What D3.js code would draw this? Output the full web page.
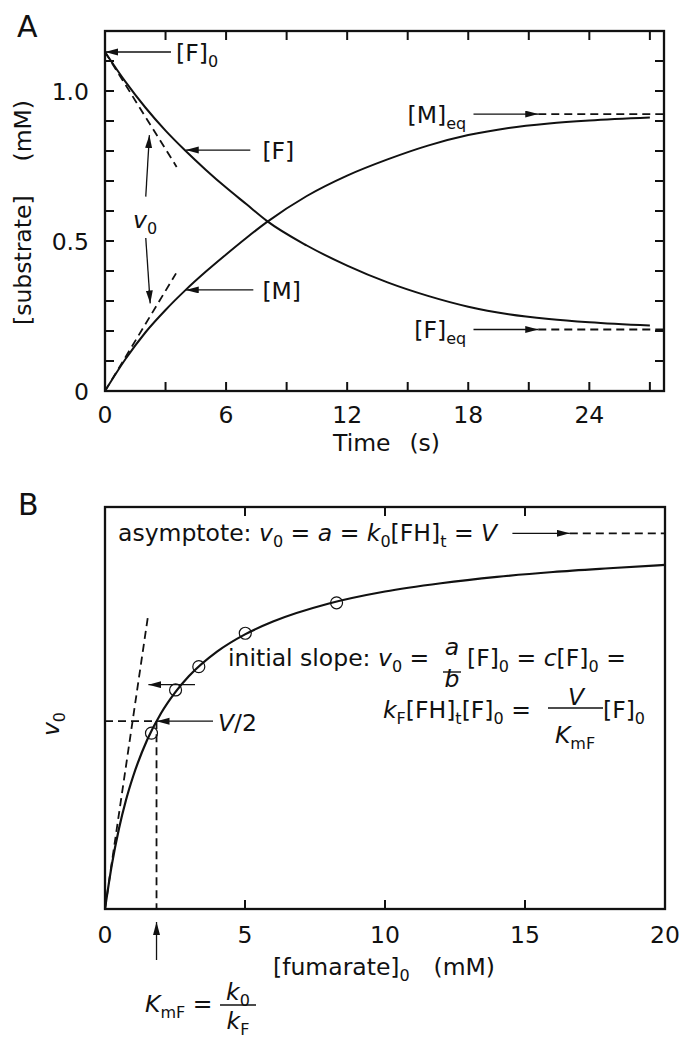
<!DOCTYPE html>
<html>
<head>
<meta charset="utf-8">
<script src="https://cdn.jsdelivr.net/npm/d3@7"></script>
<style>
  body { margin: 0; background: #fff; }
  text { font-family: "DejaVu Sans", sans-serif; fill: #111; }
</style>
</head>
<body>
<svg id="chart" width="681" height="1039"></svg>
<script>
// ---------------------------------------------
// data

// panel A: time course (s) and the two substrate curves (mM)
const timeA = [0, 1, 2, 3, 4, 5, 6, 7, 8, 10, 12, 14, 16, 18, 20, 22, 24, 27];
const fumarateA = [1.13, 1.032, 0.945, 0.868, 0.80, 0.737, 0.678, 0.623, 0.568, 0.485, 0.418, 0.362, 0.317, 0.281, 0.256, 0.24, 0.229, 0.218];
const malateA = [0, 0.105, 0.195, 0.27, 0.337, 0.398, 0.455, 0.51, 0.562, 0.65, 0.718, 0.772, 0.818, 0.853, 0.877, 0.892, 0.902, 0.912];
const xTicksA = [0, 6, 12, 18, 24];
const yTicksA = [0, 0.5, 1.0];
const F0 = 1.13, Feq = 0.205, Meq = 0.923;
// tangent end points (initial rates)
const tangentF = [[0, 1.13], [3.55, 0.747]];
const tangentM = [[0, 0], [3.52, 0.392]];

// panel B: [fumarate]0 (mM) against v0 (V = 1)
const concB = [0, 0.25, 0.5, 0.75, 1, 1.5, 2, 2.5, 3, 4, 5, 6, 8, 10, 12, 14, 16, 18, 20];
const rateB = [0, 0.12, 0.214, 0.29, 0.352, 0.449, 0.521, 0.576, 0.62, 0.685, 0.731, 0.765, 0.813, 0.845, 0.867, 0.884, 0.897, 0.907, 0.916];
const pointConc = [1.66, 2.52, 3.35, 5.01, 8.27];
const pointRate = [0.468, 0.583, 0.645, 0.734, 0.815];
const xTicksB = [0, 5, 10, 15, 20];
const Vmax = 1, KmF = 1.84;
const slopeLine = [[0, 0], [1.55, 0.787]];

// ---------------------------------------------
// setup

const svg = d3.select("#chart");
const FS = 23.5;      // main font size
const SUB = 16;       // subscript size

// arrow head marker
svg.append("defs").append("marker")
    .attr("id", "head")
    .attr("markerUnits", "userSpaceOnUse")
    .attr("markerWidth", 14).attr("markerHeight", 8)
    .attr("refX", 13).attr("refY", 3.5)
    .attr("orient", "auto")
    .append("path")
    .attr("d", "M0,0 L13,3.5 L0,7 Z")
    .attr("fill", "#111");

// writes a text with sub-scripts; "_" = subscript, "*" = italic
function rich(g, x, y, parts, anchor) {
    const t = g.append("text")
        .attr("x", x).attr("y", y)
        .attr("font-size", FS)
        .attr("text-anchor", anchor || "start");
    let shift = 0;
    parts.forEach(p => {
        let italic = false, sub = false;
        while (p[0] === "*" || p[0] === "_") {
            if (p[0] === "*") italic = true; else sub = true;
            p = p.slice(1);
        }
        const span = t.append("tspan").text(p).style("white-space", "pre");
        const want = sub ? 6 : 0;
        if (want !== shift) span.attr("dy", want - shift);
        shift = want;
        if (sub) span.attr("font-size", SUB);
        if (italic) span.attr("font-style", "italic");
    });
    return t;
}

function arrow(g, x1, y1, x2, y2) {
    g.append("line")
        .attr("x1", x1).attr("y1", y1).attr("x2", x2).attr("y2", y2)
        .attr("stroke", "#111").attr("stroke-width", 1.3)
        .attr("marker-end", "url(#head)");
}

function dashed(g, pts, x, y) {
    g.append("path")
        .attr("d", d3.line().x(d => x(d[0])).y(d => y(d[1]))(pts))
        .attr("fill", "none").attr("stroke", "#111")
        .attr("stroke-width", 1.8).attr("stroke-dasharray", "8,5");
}

// frame with inward ticks on the sides asked for
function frame(g, x, y, xt, yt) {
    const [x0, x1] = x.range(), [y0, y1] = y.range();
    const L = 9;
    xt.forEach(v => {
        g.append("line").attr("x1", x(v)).attr("x2", x(v)).attr("y1", y0).attr("y2", y0 - L);
        g.append("line").attr("x1", x(v)).attr("x2", x(v)).attr("y1", y1).attr("y2", y1 + L);
    });
    yt.forEach(v => {
        g.append("line").attr("y1", y(v)).attr("y2", y(v)).attr("x1", x0).attr("x2", x0 + L);
        g.append("line").attr("y1", y(v)).attr("y2", y(v)).attr("x1", x1).attr("x2", x1 - L);
    });
    g.selectAll("line").attr("stroke", "#111").attr("stroke-width", 2);
    g.append("rect")
        .attr("x", x0).attr("y", y1)
        .attr("width", x1 - x0).attr("height", y0 - y1)
        .attr("fill", "none").attr("stroke", "#111").attr("stroke-width", 2.3);
}

// ---------------------------------------------
// panel A

const xA = d3.scaleLinear().domain([0, 27.7]).range([105, 664]);
const yA = d3.scaleLinear().domain([0, 1.2]).range([391, 31]);
const gA = svg.append("g");

frame(gA.append("g"), xA, yA, d3.range(3, 28, 3), d3.range(1, 12).map(i => i / 10));

gA.selectAll(".xl").data(xTicksA).join("text")
    .attr("x", d => xA(d)).attr("y", 423)
    .attr("text-anchor", "middle").attr("font-size", FS)
    .text(d => d);
gA.selectAll(".yl").data(yTicksA).join("text")
    .attr("x", 89).attr("y", d => yA(d) + 8.5)
    .attr("text-anchor", "end").attr("font-size", FS)
    .text(d => d === 0 ? "0" : d.toFixed(1));

gA.append("text").attr("x", 333).attr("y", 451).attr("font-size", FS).text("Time");
gA.append("text").attr("x", 440).attr("y", 451).attr("font-size", FS).attr("text-anchor", "end").text("(s)");

gA.append("text").attr("transform", "translate(31,325) rotate(-90)").attr("font-size", FS).text("[substrate]");
gA.append("text").attr("transform", "translate(31,100) rotate(-90)").attr("font-size", FS).attr("text-anchor", "end").text("(mM)");

gA.append("text").attr("x", 17).attr("y", 37).attr("font-size", 30).text("A");

// curves
const lineA = d3.line().curve(d3.curveMonotoneX).x((d, i) => xA(timeA[i])).y(d => yA(d));
[fumarateA, malateA].forEach(s => {
    gA.append("path").attr("d", lineA(s))
        .attr("fill", "none").attr("stroke", "#111").attr("stroke-width", 2);
});

// tangents and equilibrium lines
dashed(gA, tangentF, xA, yA);
dashed(gA, tangentM, xA, yA);
dashed(gA, [[21.47, Meq], [27.7, Meq]], xA, yA);
dashed(gA, [[21.47, Feq], [27.7, Feq]], xA, yA);

// annotations
arrow(gA, xA(3.27), yA(F0), xA(0), yA(F0));
rich(gA, xA(3.52), yA(F0) + 9, ["[F]", "_0"]);
arrow(gA, xA(7.2), yA(0.803), xA(4.0), yA(0.803));
rich(gA, xA(7.8), yA(0.803) + 9, ["[F]"]);
arrow(gA, xA(7.35), yA(0.337), xA(4.0), yA(0.337));
rich(gA, xA(7.8), yA(0.337) + 9, ["[M]"]);
arrow(gA, xA(18.26), yA(Meq), xA(21.47), yA(Meq));
rich(gA, xA(17.9), yA(Meq) + 8.5, ["[M]", "_eq"], "end");
arrow(gA, xA(18.26), yA(Feq), xA(21.47), yA(Feq));
rich(gA, xA(17.9), yA(Feq) + 8.5, ["[F]", "_eq"], "end");
rich(gA, 133, 228, ["*v", "_0"]);
arrow(gA, xA(2.02), yA(0.648), xA(2.2), yA(0.853));
arrow(gA, xA(2.02), yA(0.51), xA(2.24), yA(0.292));

// ---------------------------------------------
// panel B

const xB = d3.scaleLinear().domain([0, 20]).range([105, 665]);
const yB = d3.scaleLinear().domain([0, 1.07]).range([909, 507]);
const gB = svg.append("g");

frame(gB.append("g"), xB, yB, [5, 10, 15], []);

gB.selectAll(".xl").data(xTicksB).join("text")
    .attr("x", d => xB(d)).attr("y", 943)
    .attr("text-anchor", "middle").attr("font-size", FS)
    .text(d => d);
rich(gB, 273, 975, ["[fumarate]", "_0"]);
gB.append("text").attr("x", 495).attr("y", 975).attr("font-size", FS).attr("text-anchor", "end").text("(mM)");
rich(gB, 0, 0, ["*v", "_0"], "middle").attr("transform", "translate(59,724) rotate(-90)").attr("x", null).attr("y", null);
gB.append("text").attr("x", 18).attr("y", 515).attr("font-size", 30).text("B");

// fitted curve and measured points
const lineB = d3.line().curve(d3.curveMonotoneX).x((d, i) => xB(concB[i])).y(d => yB(d));
gB.append("path").attr("d", lineB(rateB))
    .attr("fill", "none").attr("stroke", "#111").attr("stroke-width", 2.2);
gB.selectAll("circle").data(pointRate).join("circle")
    .attr("cx", (d, i) => xB(pointConc[i])).attr("cy", d => yB(d))
    .attr("r", 6).attr("fill", "none").attr("stroke", "#111").attr("stroke-width", 1.2);

// guide lines
dashed(gB, slopeLine, xB, yB);
dashed(gB, [[0, Vmax / 2], [KmF, Vmax / 2]], xB, yB);
dashed(gB, [[KmF, Vmax / 2], [KmF, 0]], xB, yB);
dashed(gB, [[16.6, Vmax], [20, Vmax]], xB, yB);

// asymptote label
rich(gB, 118, 541, ["asymptote: ", "*v", "_0", " = ", "*a", " = ", "*k", "_0", "[FH]", "_t", " = ", "*V"]);
arrow(gB, xB(14.55), yB(Vmax), xB(16.6), yB(Vmax));

// initial slope label
arrow(gB, 195, yB(0.597), xB(1.55), yB(0.597));
rich(gB, 228, 666, ["initial slope: ", "*v", "_0", " ="]);
rich(gB, 452, 655, ["*a"], "middle");
rich(gB, 452, 687, ["*b"], "middle");
gB.append("line").attr("x1", 443).attr("x2", 461).attr("y1", 672).attr("y2", 672).attr("stroke", "#111").attr("stroke-width", 1.4);
rich(gB, 467, 666, ["[F]", "_0", " = ", "*c", "[F]", "_0", " ="]);
rich(gB, 383, 718, ["*k", "_F", "[FH]", "_t", "[F]", "_0", " ="]);
rich(gB, 576, 705, ["*V"], "middle");
rich(gB, 575, 743, ["*K", "_mF"], "middle");
gB.append("line").attr("x1", 548).attr("x2", 603).attr("y1", 708).attr("y2", 708).attr("stroke", "#111").attr("stroke-width", 1.4);
rich(gB, 603, 718, ["[F]", "_0"]);

// V/2 label
arrow(gB, 213, yB(Vmax / 2), xB(KmF), yB(Vmax / 2));
rich(gB, 218, 731, ["*V", "/2"]);

// KmF label under the axis (kept fully inside the picture)
arrow(gB, xB(KmF), 960, xB(KmF), 922);
rich(gB, 145, 1012, ["*K", "_mF", " ="]);
rich(gB, 238, 1000, ["*k", "_0"], "middle");
rich(gB, 238, 1029, ["*k", "_F"], "middle");
gB.append("line").attr("x1", 220).attr("x2", 256).attr("y1", 1005).attr("y2", 1005).attr("stroke", "#111").attr("stroke-width", 1.4);
</script>
</body>
</html>
